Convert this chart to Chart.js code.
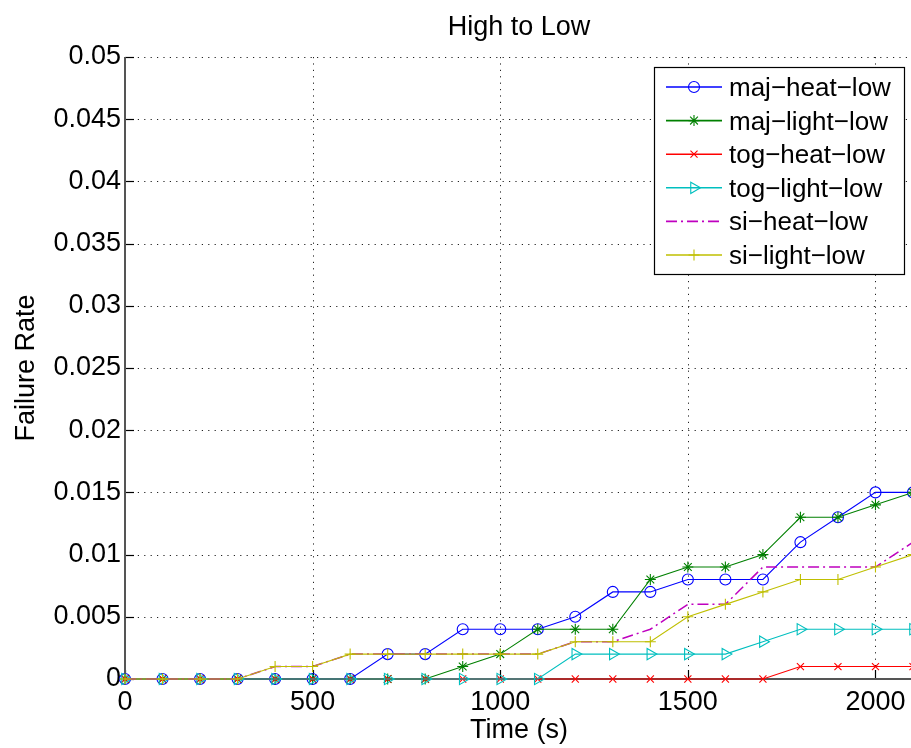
<!DOCTYPE html>
<html>
<head>
<meta charset="utf-8">
<title>High to Low</title>
<script src="https://cdn.jsdelivr.net/npm/chart.js@4.4.1/dist/chart.umd.min.js"></script>
<style>
  html, body { margin: 0; padding: 0; background: #ffffff; overflow: hidden; width: 911px; height: 748px; }
  #wrap { position: relative; width: 913px; height: 748px; }
  canvas { display: block; }
</style>
</head>
<body>
<div id="wrap"><canvas id="chart" width="913" height="748"></canvas></div>
<script>
// Sample times (s)
const timeSeconds = [0, 100, 200, 300, 400, 500, 600, 700, 800, 900, 1000,
                     1100, 1200, 1300, 1400, 1500, 1600, 1700, 1800, 1900, 2000, 2100];

// Failure rate per configuration
const majHeatLow  = [0, 0, 0, 0, 0, 0, 0, 0.002, 0.002, 0.004, 0.004,
                     0.004, 0.005, 0.007, 0.007, 0.008, 0.008, 0.008, 0.011, 0.013, 0.015, 0.015];
const majLightLow = [0, 0, 0, 0, 0, 0, 0, 0, 0, 0.001, 0.002,
                     0.004, 0.004, 0.004, 0.008, 0.009, 0.009, 0.010, 0.013, 0.013, 0.014, 0.015];
const togHeatLow  = [0, 0, 0, 0, 0, 0, 0, 0, 0, 0, 0,
                     0, 0, 0, 0, 0, 0, 0, 0.001, 0.001, 0.001, 0.001];
const togLightLow = [0, 0, 0, 0, 0, 0, 0, 0, 0, 0, 0,
                     0, 0.002, 0.002, 0.002, 0.002, 0.002, 0.003, 0.004, 0.004, 0.004, 0.004];
const siHeatLow   = [0, 0, 0, 0, 0.001, 0.001, 0.002, 0.002, 0.002, 0.002, 0.002,
                     0.002, 0.003, 0.003, 0.004, 0.006, 0.006, 0.009, 0.009, 0.009, 0.009, 0.011];
const siLightLow  = [0, 0, 0, 0, 0.001, 0.001, 0.002, 0.002, 0.002, 0.002, 0.002,
                     0.002, 0.003, 0.003, 0.003, 0.005, 0.006, 0.007, 0.008, 0.008, 0.009, 0.010];

const seriesNames = ['maj\u2212heat\u2212low', 'maj\u2212light\u2212low', 'tog\u2212heat\u2212low',
                     'tog\u2212light\u2212low', 'si\u2212heat\u2212low', 'si\u2212light\u2212low'];
const seriesValues = [majHeatLow, majLightLow, togHeatLow, togLightLow, siHeatLow, siLightLow];

const chartTitle = 'High to Low';
const xAxisTitle = 'Time (s)';
const yAxisTitle = 'Failure Rate';

// Axis ranges and tick values
const xRange = [0, 2100];
const xTickValues = [0, 500, 1000, 1500, 2000];
const yRange = [0, 0.05];
const yTickValues = [0, 0.005, 0.01, 0.015, 0.02, 0.025, 0.03, 0.035, 0.04, 0.045, 0.05];

// Line styles
const seriesStyles = [
  { color: '#0000ff', pointStyle: 'circle',   radius: 5.5, rotation: 0,  dash: [] },
  { color: '#008000', pointStyle: 'star',     radius: 5.5, rotation: 0,  dash: [] },
  { color: '#ff0000', pointStyle: 'crossRot', radius: 5,   rotation: 0,  dash: [] },
  { color: '#00bfbf', pointStyle: 'triangle', radius: 6.5, rotation: 90, dash: [] },
  { color: '#bf00bf', pointStyle: false,      radius: 0,   rotation: 0,  dash: [11, 4, 2, 4] },
  { color: '#bfbf00', pointStyle: 'cross',    radius: 5.5, rotation: 0,  dash: [] }
];

const FONT = '"Liberation Sans", Arial, Helvetica, sans-serif';

const datasets = seriesNames.map((name, i) => {
  const s = seriesStyles[i];
  return {
    label: name,
    data: timeSeconds.map((t, k) => ({ x: t, y: seriesValues[i][k] })),
    borderColor: s.color,
    backgroundColor: 'rgba(0,0,0,0)',
    borderWidth: i === 4 ? 1.5 : 1.1,
    borderDash: s.dash,
    pointStyle: s.pointStyle || 'circle',
    pointRadius: s.radius,
    pointRotation: s.rotation,
    pointBorderColor: s.color,
    pointBackgroundColor: 'rgba(0,0,0,0)',
    pointBorderWidth: 1.1,
    tension: 0,
    clip: false,
    order: -i
  };
});

// Dotted grid, axis lines and inward tick marks, drawn beneath the data
const axesFrame = {
  id: 'axesFrame',
  beforeDatasetsDraw(chart) {
    const { ctx, chartArea: a, scales: { x, y } } = chart;
    ctx.save();
    ctx.strokeStyle = '#222222';
    ctx.lineWidth = 1;
    ctx.setLineDash([1.2, 5.2]);
    x.ticks.forEach(t => {
      if (t.value === xRange[0]) return;
      const px = Math.round(x.getPixelForValue(t.value)) + 0.5;
      ctx.beginPath(); ctx.moveTo(px, a.bottom); ctx.lineTo(px, a.top); ctx.stroke();
    });
    y.ticks.forEach(t => {
      if (Math.abs(t.value - yRange[0]) < 1e-9) return;
      const py = Math.round(y.getPixelForValue(t.value)) + 0.5;
      ctx.beginPath(); ctx.moveTo(a.left, py); ctx.lineTo(a.right, py); ctx.stroke();
    });
    ctx.setLineDash([]);

    // inward major ticks
    ctx.strokeStyle = '#000000';
    ctx.lineWidth = 1.2;
    const tickLen = 9;
    x.ticks.forEach(t => {
      const px = Math.round(x.getPixelForValue(t.value)) + 0.5;
      ctx.beginPath(); ctx.moveTo(px, a.bottom); ctx.lineTo(px, a.bottom - tickLen); ctx.stroke();
    });
    y.ticks.forEach(t => {
      const py = Math.round(y.getPixelForValue(t.value)) + 0.5;
      ctx.beginPath(); ctx.moveTo(a.left, py); ctx.lineTo(a.left + tickLen, py); ctx.stroke();
    });

    // axis lines
    ctx.strokeStyle = '#555555';
    ctx.lineWidth = 2;
    ctx.beginPath();
    ctx.moveTo(a.left, a.top);
    ctx.lineTo(a.left, a.bottom);
    ctx.lineTo(a.right, a.bottom);
    ctx.stroke();
    ctx.restore();
  }
};

function drawMarker(ctx, s, cx, cy) {
  if (!s.pointStyle) return;
  const opts = { pointStyle: s.pointStyle, radius: s.radius, rotation: s.rotation, borderWidth: 1.1 };
  ctx.fillStyle = 'rgba(0,0,0,0)';
  ctx.strokeStyle = s.color;
  ctx.lineWidth = 1.1;
  ctx.setLineDash([]);
  if (Chart.helpers && Chart.helpers.drawPoint) {
    Chart.helpers.drawPoint(ctx, opts, cx, cy);
  }
}

// Title, axis titles and boxed legend
const annotations = {
  id: 'annotations',
  afterDraw(chart) {
    const { ctx, chartArea: a } = chart;
    ctx.save();
    ctx.fillStyle = '#000000';
    ctx.textBaseline = 'alphabetic';

    ctx.font = '27px ' + FONT;
    ctx.textAlign = 'center';
    ctx.fillText(chartTitle, (a.left + a.right) / 2, 35);
    ctx.fillText(xAxisTitle, (a.left + a.right) / 2, 738);

    ctx.save();
    ctx.translate(34, (a.top + a.bottom) / 2);
    ctx.rotate(-Math.PI / 2);
    ctx.fillText(yAxisTitle, 0, 0);
    ctx.restore();

    // legend
    const box = { x: 654.5, y: 67.5, w: 250, h: 207 };
    ctx.fillStyle = '#ffffff';
    ctx.fillRect(box.x, box.y, box.w, box.h);
    ctx.strokeStyle = '#000000';
    ctx.lineWidth = 1.2;
    ctx.strokeRect(box.x, box.y, box.w, box.h);

    ctx.font = '26px ' + FONT;
    ctx.textAlign = 'left';
    seriesNames.forEach((name, i) => {
      const s = seriesStyles[i];
      const cy = 87 + i * 33.6;
      ctx.strokeStyle = s.color;
      ctx.lineWidth = i === 4 ? 1.8 : 1.6;
      ctx.setLineDash(s.dash);
      ctx.beginPath();
      ctx.moveTo(666, cy); ctx.lineTo(722, cy);
      ctx.stroke();
      ctx.setLineDash([]);
      drawMarker(ctx, s, 694, cy);
      ctx.fillStyle = '#000000';
      ctx.fillText(name, 729, cy + 9);
    });
    ctx.restore();
  }
};

const plainNumber = v => String(parseFloat(Number(v).toFixed(4)));

new Chart(document.getElementById('chart'), {
  type: 'line',
  data: { datasets },
  options: {
    responsive: false,
    animation: false,
    events: [],
    layout: { autoPadding: false, padding: { left: 0, right: 0, top: 57, bottom: 0 } },
    plugins: {
      legend: { display: false },
      title: { display: false },
      tooltip: { enabled: false }
    },
    scales: {
      x: {
        type: 'linear',
        min: xRange[0],
        max: xRange[1],
        grid: { display: false, drawTicks: false },
        border: { display: false },
        afterBuildTicks(scale) { scale.ticks = xTickValues.map(v => ({ value: v })); },
        ticks: {
          autoSkip: false,
          maxRotation: 0,
          padding: 7,
          color: '#000000',
          font: { family: FONT, size: 27 },
          callback: plainNumber
        },
        afterFit(scale) {
          scale.height = 69;
          scale.paddingLeft = 0;
          scale.paddingRight = 0;
        }
      },
      y: {
        type: 'linear',
        min: yRange[0],
        max: yRange[1],
        grid: { display: false, drawTicks: false },
        border: { display: false },
        afterBuildTicks(scale) { scale.ticks = yTickValues.map(v => ({ value: v })); },
        ticks: {
          autoSkip: false,
          padding: 4,
          color: '#000000',
          font: { family: FONT, size: 27 },
          callback: plainNumber
        },
        afterFit(scale) {
          scale.width = 125;
          scale.paddingTop = 0;
          scale.paddingBottom = 0;
        }
      }
    }
  },
  plugins: [axesFrame, annotations]
});
</script>
</body>
</html>
